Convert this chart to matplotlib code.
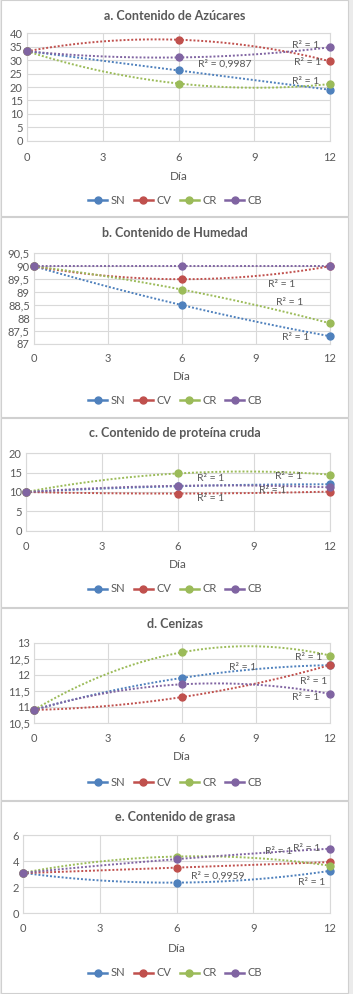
import matplotlib.pyplot as plt
import numpy as np
from matplotlib.lines import Line2D
from matplotlib.patches import Rectangle
from matplotlib.ticker import FuncFormatter, MultipleLocator

plt.rcParams['font.family'] = ['Lato', 'DejaVu Sans']

# ---- data ----
days = [0, 6, 12]
series_names = ["SN", "CV", "CR", "CB"]

azucares_sn = [33.3, 26.3, 18.9]
azucares_cv = [33.3, 37.6, 29.6]
azucares_cr = [33.3, 21.3, 21.1]
azucares_cb = [33.3, 31.0, 34.8]

humedad_sn = [90.0, 88.5, 87.3]
humedad_cv = [90.0, 89.5, 90.0]
humedad_cr = [90.0, 89.1, 87.8]
humedad_cb = [90.0, 90.0, 90.0]

proteina_sn = [10.0, 11.5, 12.0]
proteina_cv = [10.0, 9.6, 10.1]
proteina_cr = [10.0, 14.8, 14.5]
proteina_cb = [10.0, 11.6, 11.2]

cenizas_sn = [10.9, 11.9, 12.3]
cenizas_cv = [10.9, 11.3, 12.3]
cenizas_cr = [10.9, 12.7, 12.6]
cenizas_cb = [10.9, 11.7, 11.4]

grasa_sn = [3.1, 2.35, 3.25]
grasa_cv = [3.1, 3.45, 3.95]
grasa_cr = [3.1, 4.35, 3.65]
grasa_cb = [3.1, 4.15, 4.95]

# trendline degree per series (SN, CV, CR, CB)
azucares_deg = [1, 2, 2, 2]
humedad_deg = [2, 2, 2, 0]
proteina_deg = [2, 2, 2, 2]
cenizas_deg = [2, 2, 2, 2]
grasa_deg = [2, 1, 2, 2]

# R² labels (text, x, y)
azucares_r2 = [("R² = 1", 11.05, 35.3), ("R² = 1", 11.1, 29.3),
               ("R² = 0,9987", 7.85, 28.6), ("R² = 1", 11.05, 22.2)]
humedad_r2 = [("R² = 1", 10.05, 89.28), ("R² = 1", 10.35, 88.62), ("R² = 1", 10.62, 87.27)]
proteina_r2 = [("R² = 1", 7.3, 13.4), ("R² = 1", 10.35, 13.9),
               ("R² = 1", 9.75, 10.3), ("R² = 1", 7.3, 8.2)]
cenizas_r2 = [("R² = 1", 11.15, 12.55), ("R² = 1", 8.47, 12.21),
              ("R² = 1", 11.35, 11.80), ("R² = 1", 11.03, 11.30)]
grasa_r2 = [("R² = 1", 11.1, 5.0), ("R² = 1", 10.0, 4.7),
            ("R² = 0,9959", 7.6, 2.86), ("R² = 1", 11.3, 2.33)]

colors = ['#4F81BD', '#C0504D', '#9BBB59', '#8064A2']
text_color = '#595959'
grid_color = '#D9D9D9'

W, H = 353, 994
fig = plt.figure(figsize=(W / 100, H / 100), dpi=100)
fig.patch.set_facecolor('#EBEBEB')


def fx(px):
    return px / W


def fy(py):
    return 1 - py / H


def comma_fmt(v, pos):
    return ('%g' % v).replace('.', ',')


panels = [
    dict(title="a. Contenido de Azúcares", frame=(0, 216),
         data=[azucares_sn, azucares_cv, azucares_cr, azucares_cb], deg=azucares_deg,
         r2=azucares_r2, ylim=(0, 40), ystep=5,
         ax_px=(27, 330, 33.3, 140.7), title_y=16, xt_y=155, xl_y=172, leg_y=200),
    dict(title="b. Contenido de Humedad", frame=(217, 417),
         data=[humedad_sn, humedad_cv, humedad_cr, humedad_cb], deg=humedad_deg,
         r2=humedad_r2, ylim=(87, 90.5), ystep=0.5,
         ax_px=(34, 330, 253.3, 344), title_y=233, xt_y=356, xl_y=373, leg_y=400),
    dict(title="c. Contenido de proteína cruda", frame=(418, 607),
         data=[proteina_sn, proteina_cv, proteina_cr, proteina_cb], deg=proteina_deg,
         r2=proteina_r2, ylim=(0, 20), ystep=5,
         ax_px=(26, 330, 453.3, 530.7), title_y=433, xt_y=544, xl_y=561, leg_y=589),
    dict(title="d. Cenizas", frame=(608, 800),
         data=[cenizas_sn, cenizas_cv, cenizas_cr, cenizas_cb], deg=cenizas_deg,
         r2=cenizas_r2, ylim=(10.5, 13), ystep=0.5,
         ax_px=(34, 330, 642.7, 722.7), title_y=624, xt_y=736, xl_y=753, leg_y=782),
    dict(title="e. Contenido de grasa", frame=(801, 993),
         data=[grasa_sn, grasa_cv, grasa_cr, grasa_cb], deg=grasa_deg,
         r2=grasa_r2, ylim=(0, 6), ystep=2,
         ax_px=(23, 330, 835, 913.3), title_y=817, xt_y=926, xl_y=944, leg_y=973),
]

xs = np.linspace(0, 12, 200)

for p in panels:
    top, bot = p['frame']
    fig.patches.append(Rectangle((fx(1), fy(bot)), fx(348) - fx(1), fy(top) - fy(bot),
                                 transform=fig.transFigure, facecolor='white',
                                 edgecolor='#D0D0D0', linewidth=0.8, zorder=-5))

    x0, x1, y0, y1 = p['ax_px']
    ax = fig.add_axes([fx(x0), fy(y1), fx(x1) - fx(x0), fy(y0) - fy(y1)])
    ax.set_facecolor('none')
    ax.set_zorder(2)

    for vals, deg, c in zip(p['data'], p['deg'], colors):
        coef = np.polyfit(days, vals, deg)
        ax.plot(xs, np.polyval(coef, xs), color=c, linestyle=(0, (1, 1)),
                linewidth=1.4, zorder=2)
    for vals, c in zip(p['data'], colors):
        ax.plot(days, vals, linestyle='none', marker='o', markersize=5,
                color=c, zorder=3, clip_on=False)

    for txt, tx, ty in p['r2']:
        ax.text(tx, ty, txt, fontsize=7.5, color=text_color, ha='center', va='center', zorder=4)

    ax.set_xlim(0, 12)
    ax.set_ylim(*p['ylim'])
    ax.xaxis.set_major_locator(MultipleLocator(3))
    ax.yaxis.set_major_locator(MultipleLocator(p['ystep']))
    ax.yaxis.set_major_formatter(FuncFormatter(comma_fmt))
    ax.grid(True, color=grid_color, linewidth=0.8, zorder=0)
    ax.set_axisbelow(True)
    for s in ax.spines.values():
        s.set_color(grid_color)
        s.set_linewidth(0.8)
    ax.tick_params(length=0, labelsize=8, labelcolor=text_color)
    ax.tick_params(axis='y', pad=3)
    ax.tick_params(axis='x', pad=(p['xt_y'] - y1) / 1.39 - 2)

    fig.text(fx(175), fy(p['title_y']), p['title'], fontsize=9, fontweight='bold',
             color=text_color, ha='center', va='center')
    fig.text(fx((x0 + x1) / 2), fy(p['xl_y'] + 4), "Día", fontsize=8.5,
             color=text_color, ha='center', va='center')

    handles = [Line2D([0], [0], color=c, marker='o', linewidth=1.8, markersize=5)
               for c in colors]
    fig.legend(handles, series_names, loc='center', bbox_to_anchor=(fx(175), fy(p['leg_y'])),
               ncol=4, frameon=False, fontsize=8, labelcolor=text_color,
               handlelength=1.7, handletextpad=0.3, columnspacing=0.8)

fig.savefig('out.png', dpi=100, facecolor=fig.get_facecolor())
